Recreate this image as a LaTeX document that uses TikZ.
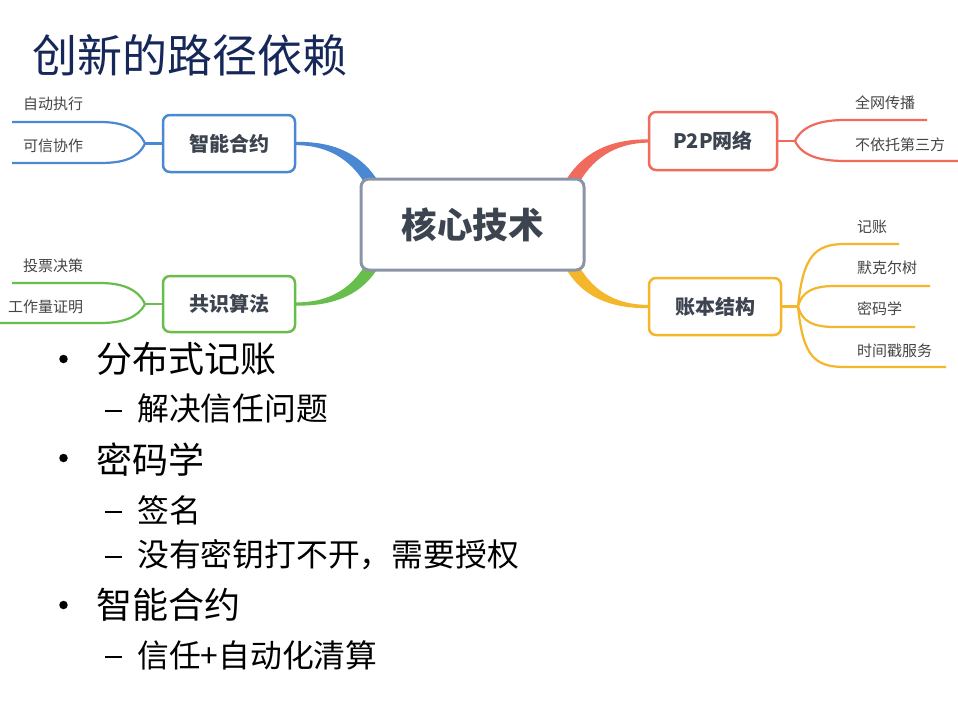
\documentclass[tikz,border=0pt]{standalone}
\usepackage{fontspec}
\setmainfont{Noto Sans CJK SC}
\usetikzlibrary{calc}
\definecolor{cblue}{HTML}{4A88D4}
\definecolor{cgreen}{HTML}{68BE4C}
\definecolor{cred}{HTML}{F06B5B}
\definecolor{cyel}{HTML}{F4B62A}
\definecolor{cgray}{HTML}{8B94A6}
\definecolor{ctext}{HTML}{3C4450}
\definecolor{cleaf}{HTML}{454545}
\definecolor{ctitle}{HTML}{16285A}
\tikzset{
  corebox/.style={draw=cgray, line width=3pt, rounded corners=8pt, fill=white,
    minimum width=223pt, minimum height=91pt, inner sep=0pt, text=ctext,
    font=\fontsize{35.5pt}{40pt}\selectfont\bfseries},
  branchbox/.style={line width=2.5pt, rounded corners=7pt, fill=white,
    minimum width=130pt, minimum height=56pt, inner sep=0pt, text=ctext,
    font=\fontsize{20pt}{24pt}\selectfont\bfseries},
  leafline/.style={line width=2.2pt},
  leaftext/.style={anchor=west, inner sep=0pt, text=cleaf, font=\fontsize{15pt}{18pt}\selectfont},
  lvlone/.style={anchor=west, inner sep=0pt, text=black, font=\fontsize{36pt}{40pt}\selectfont},
  lvltwo/.style={anchor=west, inner sep=0pt, text=black, font=\fontsize{31.8pt}{36pt}\selectfont},
  bulletdot/.style={circle, fill=black, minimum size=8.5pt, inner sep=0pt},
  dashbar/.style={rectangle, fill=black, minimum width=16.5pt, minimum height=2.6pt, inner sep=0pt},
}
\begin{document}
\begin{tikzpicture}[x=1pt, y=-1pt]
\useasboundingbox (0,0) rectangle (958,709);
\fill[white] (0,0) rectangle (958,709);

% title
\node[anchor=west, inner sep=0pt, text=ctitle, font=\fontsize{45pt}{50pt}\selectfont] (title) at (32,55) {创新的路径依赖};

% branch nodes (positions)
\coordinate (corepos) at (472.5,224.5);
\coordinate (scpos) at (229,143.5);
\coordinate (gspos) at (229,304);
\coordinate (p2ppos) at (713,141);
\coordinate (zbpos) at (715,306.5);

% tapered main connectors (drawn first, nodes on top)
\fill[cblue] (295,141.9) .. controls (338,141) and (363,157) .. (378,181) -- (367,187) .. controls (354,164) and (333,145.2) .. (295,145.1) -- cycle;
\fill[cgreen] (295,305.6) .. controls (338,306.5) and (363,292) .. (378,268) -- (367,262) .. controls (354,285) and (333,302.8) .. (295,302.4) -- cycle;
\fill[cred] (650,139.4) .. controls (607,138.5) and (582,155) .. (567,178.5) -- (578,184.5) .. controls (591,161.5) and (612,142.7) .. (650,142.6) -- cycle;
\fill[cyel] (650,308.1) .. controls (607,309) and (582,294.5) .. (567,270.5) -- (578,264.5) .. controls (591,287.5) and (612,305.3) .. (650,304.9) -- cycle;

\node[corebox] (core) at (corepos) {核心技术};
\node[branchbox, draw=cblue, minimum width=132pt, minimum height=57pt] (sc) at (scpos) {智能合约};
\node[branchbox, draw=cgreen, minimum width=132pt, minimum height=56pt] (gs) at (gspos) {共识算法};
\node[branchbox, draw=cred, minimum width=128pt, minimum height=58pt] (p2p) at (p2ppos) {P2P网络};
\node[branchbox, draw=cyel, minimum width=132pt, minimum height=57pt] (zb) at (zbpos) {账本结构};

% smart contract leaves
\coordinate (scf) at (145,143.5);
\coordinate (sc1) at (12,122);
\coordinate (sc2) at (12,163);
\draw[leafline, cblue] (sc.west) -- (scf);
\draw[leafline, cblue] (scf) .. controls (138,128) and (122,122) .. (100,122) -- (sc1);
\draw[leafline, cblue] (scf) .. controls (138,159) and (122,163) .. (100,163) -- (sc2);
\node[leaftext] (sct1) at (23,104) {自动执行};
\node[leaftext] (sct2) at (23,146) {可信协作};

% consensus leaves
\coordinate (gsf) at (145,304);
\coordinate (gs1) at (12,283);
\coordinate (gs2) at (0,323);
\draw[leafline, cgreen] (gs.west) -- (gsf);
\draw[leafline, cgreen] (gsf) .. controls (138,289) and (122,283) .. (100,283) -- (gs1);
\draw[leafline, cgreen] (gsf) .. controls (138,318) and (122,323) .. (100,323) -- (gs2);
\node[leaftext] (gst1) at (23,266) {投票决策};
\node[leaftext] (gst2) at (8,307) {工作量证明};

% p2p leaves
\coordinate (pf) at (795,141);
\coordinate (p1) at (927,120);
\coordinate (p2) at (958,161);
\draw[leafline, cred] (p2p.east) -- (pf);
\draw[leafline, cred] (pf) .. controls (802,126) and (820,120) .. (845,120) -- (p1);
\draw[leafline, cred] (pf) .. controls (802,156) and (820,161) .. (845,161) -- (p2);
\node[leaftext] (pt1) at (855,103) {全网传播};
\node[leaftext] (pt2) at (855,145) {不依托第三方};

% ledger leaves
\coordinate (zf) at (798,306.5);
\coordinate (z1) at (899,244);
\coordinate (z2) at (930,286);
\coordinate (z3) at (915,327);
\coordinate (z4) at (946,367);
\draw[leafline, cyel] (zb.east) -- (zf);
\draw[leafline, cyel] (zf) .. controls (803,256) and (815,244) .. (845,244) -- (z1);
\draw[leafline, cyel] (zf) .. controls (802,292) and (812,286) .. (835,286) -- (z2);
\draw[leafline, cyel] (zf) .. controls (802,321) and (812,327) .. (835,327) -- (z3);
\draw[leafline, cyel] (zf) .. controls (803,357) and (815,367) .. (845,367) -- (z4);
\node[leaftext] (zt1) at (857,227) {记账};
\node[leaftext] (zt2) at (857,268) {默克尔树};
\node[leaftext] (zt3) at (857,309) {密码学};
\node[leaftext] (zt4) at (857,351) {时间戳服务};

% bullet list
\node[bulletdot] (b1) at (63.5,359) {};
\node[lvlone] (t1) at (96,359) {分布式记账};
\node[dashbar] (d1) at (113.5,411) {};
\node[lvltwo] (s1) at (137,408) {解决信任问题};
\node[bulletdot] (b2) at (63.5,458) {};
\node[lvlone] (t2) at (96,460) {密码学};
\node[dashbar] (d2) at (113.5,512) {};
\node[lvltwo] (s2) at (137,510) {签名};
\node[dashbar] (d3) at (113.5,557) {};
\node[lvltwo] (s3) at (137,555) {没有密钥打不开，需要授权};
\node[bulletdot] (b3) at (63.5,605) {};
\node[lvlone] (t3) at (96,605) {智能合约};
\node[dashbar] (d4) at (113.5,657) {};
\node[lvltwo] (s4) at (137,655) {信任+自动化清算};
\end{tikzpicture}
\end{document}
